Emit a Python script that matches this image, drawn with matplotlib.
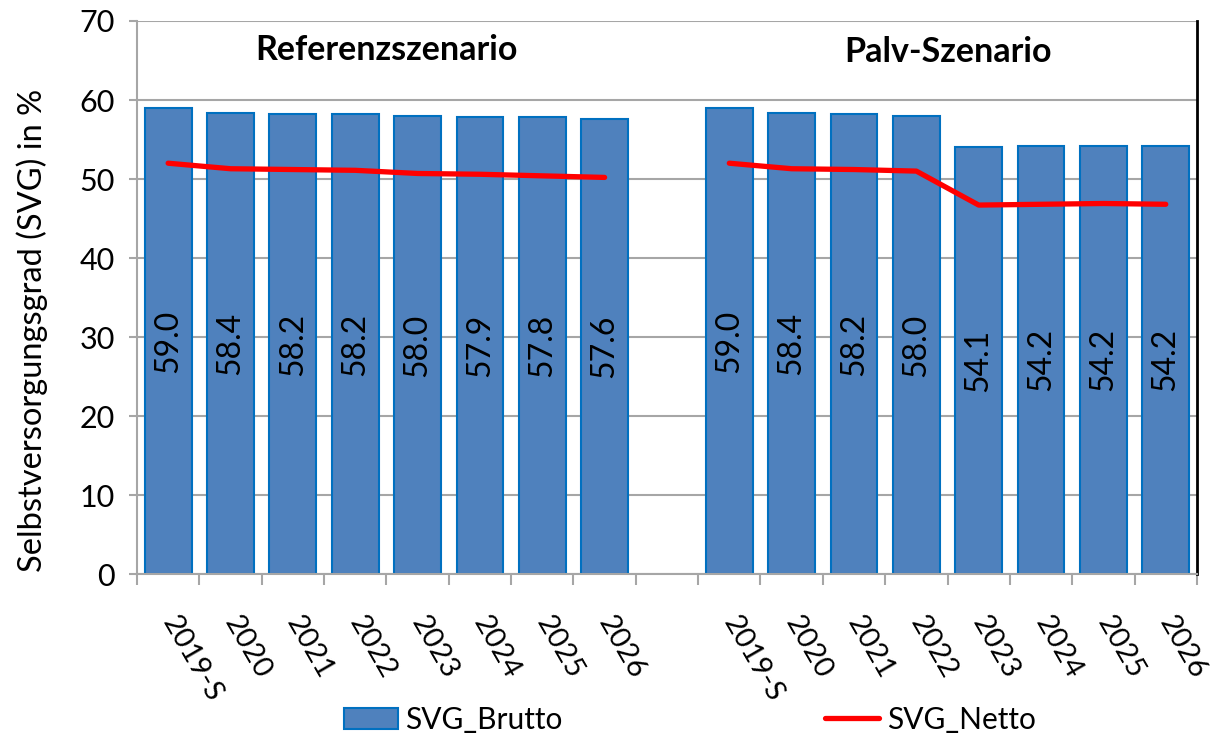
import matplotlib
matplotlib.use("Agg")
import matplotlib.pyplot as plt
import numpy as np

# data
years = ["2019-S", "2020", "2021", "2022", "2023", "2024", "2025", "2026"]
scenarios = ["Referenzszenario", "Palv-Szenario"]

ref_brutto = [59.0, 58.4, 58.2, 58.2, 58.0, 57.9, 57.8, 57.6]
ref_netto = [52.0, 51.3, 51.2, 51.1, 50.7, 50.6, 50.4, 50.2]
palv_brutto = [59.0, 58.4, 58.2, 58.0, 54.1, 54.2, 54.2, 54.2]
palv_netto = [52.0, 51.3, 51.2, 51.0, 46.7, 46.8, 46.9, 46.8]

plt.rcParams['font.family'] = ['Lato', 'DejaVu Sans']

fig = plt.figure(figsize=(12.1, 7.42), dpi=100)
ax = fig.add_axes([0.1132, 0.2264, 0.8760, 0.7453])

bar_color = "#4F81BD"
edge_color = "#0070C0"
n = len(years)
x_ref = np.arange(n)
x_palv = np.arange(n) + n + 1

ax.set_axisbelow(True)
ax.yaxis.grid(True, color="#A6A6A6", linewidth=1.5)

b1 = ax.bar(x_ref, ref_brutto, width=0.75, color=bar_color, edgecolor=edge_color,
            linewidth=1.5, label="SVG_Brutto")
ax.bar(x_palv, palv_brutto, width=0.75, color=bar_color, edgecolor=edge_color,
       linewidth=1.5)
l1, = ax.plot(x_ref, ref_netto, color="#FF0000", linewidth=3.8,
              solid_capstyle="round", label="SVG_Netto")
ax.plot(x_palv, palv_netto, color="#FF0000", linewidth=3.8, solid_capstyle="round")

for xs, vals in [(x_ref, ref_brutto), (x_palv, palv_brutto)]:
    for xi, v in zip(xs, vals):
        ax.text(xi, v / 2, f"{v:.1f}", rotation=90, ha="center", va="center",
                fontsize=23, color="black")

ax.set_xlim(-0.5, 2 * n + 0.5)
ax.set_ylim(0, 70)
ax.set_yticks(np.arange(0, 71, 10))
ax.tick_params(axis="y", labelsize=22, length=6, color="#A6A6A6", width=1.5, pad=10)

# category boundaries as ticks, labels as minor ticks
ax.set_xticks(np.arange(-0.5, 2 * n + 1, 1.0))
ax.set_xticklabels([])
ax.tick_params(axis="x", which="major", length=8, color="#A6A6A6", width=1.5)
ax.set_xticks(list(x_ref) + list(x_palv), minor=True)
ax.set_xticklabels(years + years, minor=True, rotation=-60, ha="left", va="center",
                   rotation_mode="anchor", fontsize=21)
ax.tick_params(axis="x", which="minor", length=0, pad=32)

for s in ["left", "bottom"]:
    ax.spines[s].set_color("#A6A6A6")
    ax.spines[s].set_linewidth(1.5)
ax.spines["top"].set_visible(False)
ax.spines["right"].set_color("black")
ax.spines["right"].set_linewidth(2)

ax.set_ylabel("Selbstversorgungsgrad (SVG) in %", fontsize=23.5)
ax.yaxis.set_label_coords(-0.084, 0.44)

ax.text(3.5, 66.3, scenarios[0], ha="center", va="center", fontsize=24.5, fontweight="bold")
ax.text(12.5, 66.1, scenarios[1], ha="center", va="center", fontsize=24.5, fontweight="bold")

fig.legend(handles=[b1, l1], loc="lower center", bbox_to_anchor=(0.57, -0.025), ncol=2,
           frameon=False, fontsize=21.5, columnspacing=8.8, handlelength=1.8,
           handletextpad=0.25)

fig.savefig("out.png", dpi=100)
